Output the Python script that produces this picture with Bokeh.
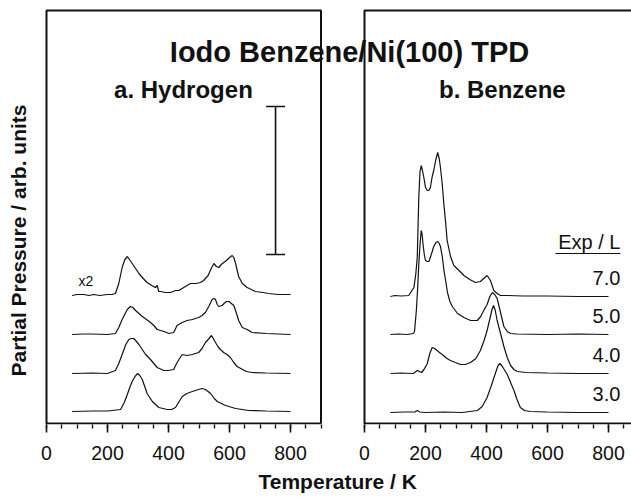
from bokeh.plotting import figure
from bokeh.models import Range1d, FixedTicker, CustomJSTickFormatter, Label, Title
from bokeh.embed import file_html
from bokeh.resources import INLINE

# ---------------- data ----------------
# Panel a: Hydrogen TPD, temperature (K) and signal (arb. units) above each trace's baseline
h2_T_1 = [84, 100, 122, 140, 155, 175, 199, 215, 226, 237, 248, 257, 265, 272, 281, 292, 303, 317, 330, 345, 357, 363, 368, 374, 390, 407, 423, 434, 450, 472, 490, 505, 515, 530, 540, 549, 557, 565, 573, 581, 590, 600, 609, 614, 620, 630, 642, 658, 685, 710, 728, 760, 800]
h2_I_1 = [0, .1, .1, 0, .1, 0, .1, .1, .2, 1.2, 2.8, 3.6, 3.9, 3.6, 3.2, 2.7, 2.2, 1.7, 1.3, 1.0, .8, 1.0, .4, .4, .3, .3, .5, .5, .8, 1.2, 1.2, 1.3, 1.5, 2.0, 2.7, 3.2, 2.9, 2.8, 3.1, 3.3, 3.5, 3.8, 4.0, 3.8, 3.2, 1.9, 1.2, .8, .4, .3, .2, .1, .1]

h2_T_2 = [84, 120, 150, 200, 226, 237, 248, 258, 265, 275, 283, 292, 303, 314, 328, 341, 352, 363, 385, 401, 417, 428, 445, 461, 478, 499, 510, 521, 532, 543, 549, 554, 560, 565, 576, 582, 590, 598, 606, 614, 622, 630, 642, 658, 674, 720, 800]
h2_I_2 = [0, .05, .05, 0, .1, .7, 1.5, 2.1, 2.5, 2.8, 2.7, 2.4, 2.1, 1.8, 1.5, 1.2, .9, .5, .3, .1, .2, .9, 1.2, 1.4, 1.5, 1.7, 1.9, 2.2, 2.8, 3.5, 3.6, 3.5, 3.0, 2.8, 2.9, 3.1, 3.3, 3.3, 3.1, 2.9, 2.2, 1.4, .7, .5, .2, .1, 0]

h2_T_3 = [84, 150, 200, 226, 237, 248, 260, 270, 278, 286, 295, 303, 314, 325, 341, 352, 363, 385, 400, 417, 423, 434, 445, 460, 478, 499, 510, 521, 533, 541, 547, 554, 562, 570, 581, 592, 603, 614, 625, 637, 655, 674, 720, 800]
h2_I_3 = [0, .05, 0, .3, 1.0, 1.9, 2.9, 3.4, 3.5, 3.5, 3.2, 2.9, 2.4, 1.9, 1.4, 1.0, .6, .3, .3, .4, .8, 1.4, 1.9, 1.8, 1.9, 2.1, 2.5, 3.1, 3.5, 3.8, 3.5, 3.1, 2.7, 2.4, 2.1, 1.9, 1.6, 1.1, .7, .5, .2, .1, .05, 0]

h2_T_4 = [84, 150, 200, 243, 255, 265, 273, 281, 290, 299, 306, 314, 322, 330, 347, 368, 396, 410, 423, 435, 445, 460, 478, 499, 510, 521, 530, 538, 550, 560, 587, 620, 663, 720, 800]
h2_I_4 = [0, .05, .05, .2, .9, 1.7, 2.4, 3.0, 3.5, 3.8, 3.6, 3.2, 2.5, 1.8, 1.0, .4, .2, .2, .4, 1.0, 1.5, 1.8, 2.0, 2.2, 2.3, 2.2, 2.0, 1.8, 1.3, 1.0, .6, .3, .1, .05, 0]

h2_offsets = [12.8, 8.9, 5.0, 1.2]

# Panel b: Benzene TPD for exposures 7.0, 5.0, 4.0, 3.0 L
bz_T_1 = [85, 100, 120, 145, 162, 168, 173, 178, 182, 186, 190, 194, 200, 206, 211, 216, 222, 227, 234, 240, 245, 249, 255, 260, 266, 271, 282, 293, 310, 326, 345, 364, 380, 391, 402, 413, 424, 435, 446, 470, 520, 600, 700, 800]
bz_I_1 = [0, .1, .05, .1, .9, 2.2, 3.9, 9.9, 12.5, 13.1, 12.6, 12.0, 10.9, 10.6, 10.6, 10.9, 12.0, 12.6, 13.7, 14.4, 13.8, 12.9, 11.2, 9.3, 7.4, 5.6, 4.0, 3.1, 2.6, 2.1, 1.7, 1.4, 1.5, 1.8, 2.1, 1.6, .6, .3, .1, .1, .05, .05, 0, 0]

bz_T_2 = [85, 110, 140, 160, 164, 170, 174, 178, 182, 186, 189, 192, 196, 200, 206, 211, 218, 227, 234, 240, 245, 249, 255, 261, 266, 272, 280, 288, 305, 326, 348, 370, 381, 391, 402, 411, 419, 427, 435, 446, 457, 468, 479, 500, 600, 700, 800]
bz_I_2 = [0, .05, 0, .1, .3, 2.4, 4.5, 7.0, 9.0, 10.4, 10.0, 9.0, 8.0, 7.4, 7.3, 7.3, 7.9, 8.8, 9.2, 9.3, 9.1, 8.8, 7.8, 6.3, 5.4, 4.2, 3.3, 2.8, 2.1, 1.7, 1.4, 1.4, 1.8, 2.4, 3.0, 3.8, 4.2, 4.0, 3.6, 2.2, .8, .3, .1, .05, 0, .05, 0]

bz_T_3 = [85, 120, 160, 173, 180, 187, 195, 206, 214, 222, 230, 238, 250, 259, 270, 282, 298, 315, 330, 348, 365, 380, 392, 402, 412, 418, 423, 428, 435, 446, 457, 468, 479, 490, 501, 530, 600, 700, 800]
bz_I_3 = [0, .05, 0, .3, .2, .1, .4, 1.0, 2.0, 2.6, 2.5, 2.3, 2.0, 1.8, 1.5, 1.3, 1.1, .9, .9, 1.1, 1.5, 2.3, 3.3, 4.3, 5.6, 6.4, 6.8, 6.4, 5.3, 4.0, 2.7, 1.6, .8, .4, .2, .1, .05, 0, 0]

bz_T_4 = [85, 130, 165, 173, 181, 200, 260, 320, 370, 386, 402, 416, 430, 438, 444, 452, 460, 468, 479, 490, 500, 511, 525, 544, 600, 700, 800]
bz_I_4 = [0, .05, .05, .2, .05, 0, .05, 0, .2, .6, 1.5, 2.7, 4.0, 4.7, 4.9, 4.6, 4.2, 3.8, 3.0, 2.2, 1.3, .5, .2, .1, .05, 0, 0]

bz_offsets = [12.7, 8.9, 5.0, 1.1]
exposures = ["7.0", "5.0", "4.0", "3.0"]

x_ticks = [0, 200, 400, 600, 800]
x_minor = list(range(0, 901, 50))

# ---------------- layout ----------------
PX_PER_K = 0.305
FRAME_L, PANEL_A_L, PANEL_B_L, FRAME_R = 0, 46, 364, 631
xa0 = (FRAME_L - PANEL_A_L) / PX_PER_K
xa1 = (FRAME_R - PANEL_A_L) / PX_PER_K
OFF = (PANEL_B_L - PANEL_A_L) / PX_PER_K
PANEL_W = 900
TOP = 41.3

FONT = "Liberation Sans"

p = figure(width=631, height=497, x_range=Range1d(xa0, xa1), y_range=Range1d(-0.1, 41.8),
           min_border_left=FRAME_L, min_border_right=0, min_border_top=5, min_border_bottom=73,
           toolbar_location=None, output_backend="svg", y_axis_location=None)
p.extra_x_ranges = {"b": Range1d(xa0 - OFF, xa1 - OFF)}
p.outline_line_color = None
p.xgrid.visible = False
p.ygrid.visible = False
p.background_fill_color = "white"
p.border_fill_color = "white"

INK = "#111111"

# panel frames
p.line([PANEL_W, 0, 0, PANEL_W, PANEL_W], [0, 0, TOP, TOP, 0], line_color=INK, line_width=2)
p.line([PANEL_W, 0, 0, PANEL_W], [TOP, TOP, 0, 0], line_color=INK, line_width=2, x_range_name="b")

# traces
h2_T = [h2_T_1, h2_T_2, h2_T_3, h2_T_4]
h2_I = [h2_I_1, h2_I_2, h2_I_3, h2_I_4]
for T, I, off in zip(h2_T, h2_I, h2_offsets):
    p.line(T, [v + off for v in I], line_color=INK, line_width=1.2)

bz_T = [bz_T_1, bz_T_2, bz_T_3, bz_T_4]
bz_I = [bz_I_1, bz_I_2, bz_I_3, bz_I_4]
for T, I, off in zip(bz_T, bz_I, bz_offsets):
    p.line(T, [v + off for v in I], line_color=INK, line_width=1.2, x_range_name="b")

# scale bar in panel a
bar_T, bar_lo, bar_hi, bar_cap = 751, 16.9, 31.7, 31
p.segment(x0=[bar_T, bar_T - bar_cap, bar_T - bar_cap], y0=[bar_lo, bar_lo, bar_hi],
          x1=[bar_T, bar_T + bar_cap, bar_T + bar_cap], y1=[bar_hi, bar_lo, bar_hi],
          line_color=INK, line_width=1.6)

# x axis
ax = p.xaxis[0]
ax.ticker = FixedTicker(ticks=x_ticks + [OFF + t for t in x_ticks],
                        minor_ticks=x_minor + [OFF + t for t in x_minor if t < 900])
ax.formatter = CustomJSTickFormatter(args=dict(off=OFF),
                                     code="return String(Math.round(tick > 950 ? tick - off : tick));")
ax.axis_line_color = None
ax.major_tick_in = 0
ax.major_tick_out = 8
ax.minor_tick_in = 0
ax.minor_tick_out = 4
ax.major_tick_line_color = INK
ax.minor_tick_line_color = INK
ax.major_tick_line_width = 1.6
ax.minor_tick_line_width = 1.4
ax.major_label_text_font = FONT
ax.major_label_text_font_size = "19.5px"
ax.major_label_text_color = INK
ax.major_label_standoff = 13

# x axis title, placed under the middle of the two panels
p.add_layout(Title(text="Temperature / K", align="left", offset=258, text_font=FONT,
                   text_font_style="bold", text_font_size="21px", text_color=INK,
                   standoff=10), "below")

# texts
def lab(text, x, y, size, bold=False, align="center", rng="default", baseline="alphabetic", **kw):
    l = Label(x=x, y=y, text=text, text_font=FONT, text_font_size=size,
              text_font_style="bold" if bold else "normal", text_align=align,
              text_baseline=baseline, text_color=INK, x_range_name=rng, **kw)
    p.add_layout(l)

lab("Iodo Benzene/Ni(100) TPD", (349 - PANEL_A_L) / PX_PER_K, 37.2, "29px", bold=True)
lab("a. Hydrogen", 449, 33.4, "24px", bold=True)
lab("b. Benzene", 452, 33.4, "24px", bold=True, rng="b")
lab("x2", 105, 14.3, "14px", align="left")
lab("Exp / L", 839, 18.2, "20px", align="right", rng="b")
p.segment(x0=[626], y0=[17.0], x1=[839], y1=[17.0], line_color=INK, line_width=1.2, x_range_name="b")
for e, off in zip(exposures, bz_offsets):
    lab(e, 839, off + 1.85, "20px", align="right", rng="b")

lab("Partial Pressure / arb. units", (18 - PANEL_A_L) / PX_PER_K, 18.3, "21px", bold=True,
    baseline="middle", angle=1.5708)

open("out.html", "w").write(file_html(p, INLINE))
